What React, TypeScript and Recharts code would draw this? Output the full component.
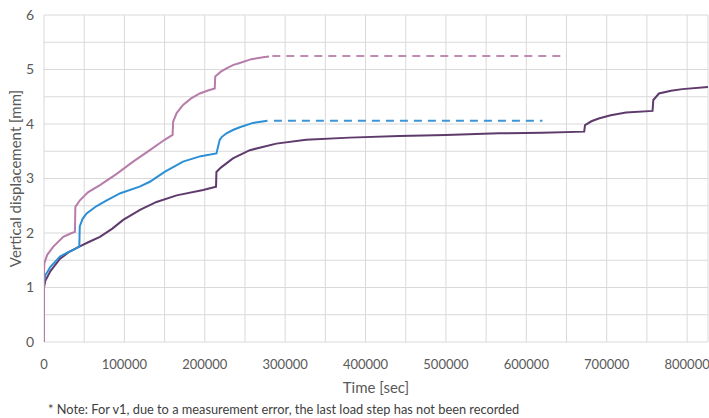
import { LineChart, Line, XAxis, YAxis, CartesianGrid } from 'recharts'

// time [sec] / vertical displacement [mm]
const pinkTime = [0, 0, 500, 4000, 11600, 24000, 33000, 38500, 39000, 44700, 55000, 69600, 90000, 110000, 131700, 150000, 160000, 160600, 165000, 173000, 183000, 193800, 203000, 212400, 213000, 220000, 227000, 235000, 243500, 258000, 274500, 280000]
const pinkDisp = [0, 1.3, 1.45, 1.6, 1.75, 1.93, 1.99, 2.02, 2.48, 2.6, 2.75, 2.88, 3.08, 3.3, 3.52, 3.71, 3.8, 4.04, 4.2, 4.35, 4.47, 4.56, 4.61, 4.65, 4.87, 4.96, 5.02, 5.08, 5.12, 5.19, 5.23, 5.24]
const pinkDashTime = [284000, 650000]
const pinkDashDisp = [5.25, 5.25]

const blueTime = [0, 0, 1500, 8000, 19900, 30000, 36400, 43900, 44500, 48000, 53000, 65000, 78000, 95000, 119000, 131700, 150000, 173000, 195000, 214500, 218600, 221000, 227000, 235000, 243500, 260000, 278000]
const blueDisp = [0, 1.08, 1.22, 1.38, 1.57, 1.65, 1.69, 1.75, 2.12, 2.26, 2.36, 2.49, 2.6, 2.73, 2.85, 2.94, 3.12, 3.31, 3.41, 3.46, 3.71, 3.76, 3.83, 3.89, 3.94, 4.02, 4.06]
const blueDashTime = [286000, 620000]
const blueDashDisp = [4.06, 4.06]

const purpleTime = [0, 0, 1500, 8000, 20000, 32000, 43900, 55000, 69600, 85000, 98500, 120000, 140000, 165000, 198000, 214000, 214500, 220000, 235000, 256000, 289000, 326000, 380000, 442000, 500000, 566000, 620000, 672000, 673000, 681000, 690000, 705000, 724000, 757000, 758000, 765000, 780000, 794000, 826000]
const purpleDisp = [0, 1.0, 1.12, 1.3, 1.53, 1.66, 1.75, 1.83, 1.93, 2.08, 2.24, 2.43, 2.57, 2.69, 2.79, 2.85, 3.12, 3.2, 3.37, 3.52, 3.64, 3.71, 3.75, 3.78, 3.8, 3.83, 3.84, 3.86, 3.98, 4.05, 4.1, 4.16, 4.21, 4.24, 4.44, 4.56, 4.61, 4.64, 4.68]

const xTicks = [0, 50000, 100000, 150000, 200000, 250000, 300000, 350000, 400000, 450000, 500000, 550000, 600000, 650000, 700000, 750000, 800000]
const yTicks = [0, 0.5, 1, 1.5, 2, 2.5, 3, 3.5, 4, 4.5, 5, 5.5, 6]

const zip = (t: number[], d: number[]) => t.map((x, i) => ({ t: x, d: d[i] }))

const FONT = 'Lato, "Open Sans", sans-serif'
const TEXT = '#595959'

export default function App() {
  return (
    <div style={{ position: 'absolute', left: 0, top: 0, width: 709, height: 418, background: '#fff', fontFamily: FONT }}>
      <LineChart width={709} height={418} margin={{ top: 15, right: 1, bottom: 0, left: 0 }}>
        <CartesianGrid stroke="#D9D9D9" strokeWidth={1} />
        <XAxis
          type="number"
          dataKey="t"
          domain={[0, 826000]}
          ticks={xTicks}
          interval={0}
          allowDataOverflow
          height={76}
          axisLine={false}
          tickLine={false}
          tickMargin={12}
          tick={{ fontSize: 13, fill: TEXT, fontFamily: FONT }}
          tickFormatter={(v: number) => (v % 100000 === 0 ? String(v) : '')}
          label={{ value: 'Time [sec]', position: 'insideBottom', offset: 25, style: { fontSize: 15, fill: TEXT, fontFamily: FONT } }}
        />
        <YAxis
          type="number"
          dataKey="d"
          domain={[0, 6]}
          ticks={yTicks}
          interval={0}
          width={44}
          axisLine={false}
          tickLine={false}
          tickMargin={4}
          tick={{ fontSize: 14, fill: TEXT, fontFamily: FONT }}
          tickFormatter={(v: number) => (Number.isInteger(v) ? String(v) : '')}
          label={{ value: 'Vertical displacement [mm]', angle: -90, position: 'insideLeft', offset: 16, style: { fontSize: 15, fill: TEXT, fontFamily: FONT, textAnchor: 'middle' } }}
        />
        <Line data={zip(pinkDashTime, pinkDashDisp)} dataKey="d" stroke="#C08AB5" strokeWidth={2} strokeDasharray="8 6" dot={false} isAnimationActive={false} />
        <Line data={zip(blueDashTime, blueDashDisp)} dataKey="d" stroke="#3D96D8" strokeWidth={2} strokeDasharray="8 6" dot={false} isAnimationActive={false} />
        <Line data={zip(purpleTime, purpleDisp)} dataKey="d" stroke="#5E3B6C" strokeWidth={2} dot={false} isAnimationActive={false} />
        <Line data={zip(blueTime, blueDisp)} dataKey="d" stroke="#2B8FD6" strokeWidth={2} dot={false} isAnimationActive={false} />
        <Line data={zip(pinkTime, pinkDisp)} dataKey="d" stroke="#B77CA9" strokeWidth={2} dot={false} isAnimationActive={false} />
      </LineChart>
      <div style={{ position: 'absolute', left: 48, top: 401, fontSize: 12.8, color: '#404040', whiteSpace: 'nowrap' }}>
        * Note: For v1, due to a measurement error, the last load step has not been recorded
      </div>
    </div>
  )
}
